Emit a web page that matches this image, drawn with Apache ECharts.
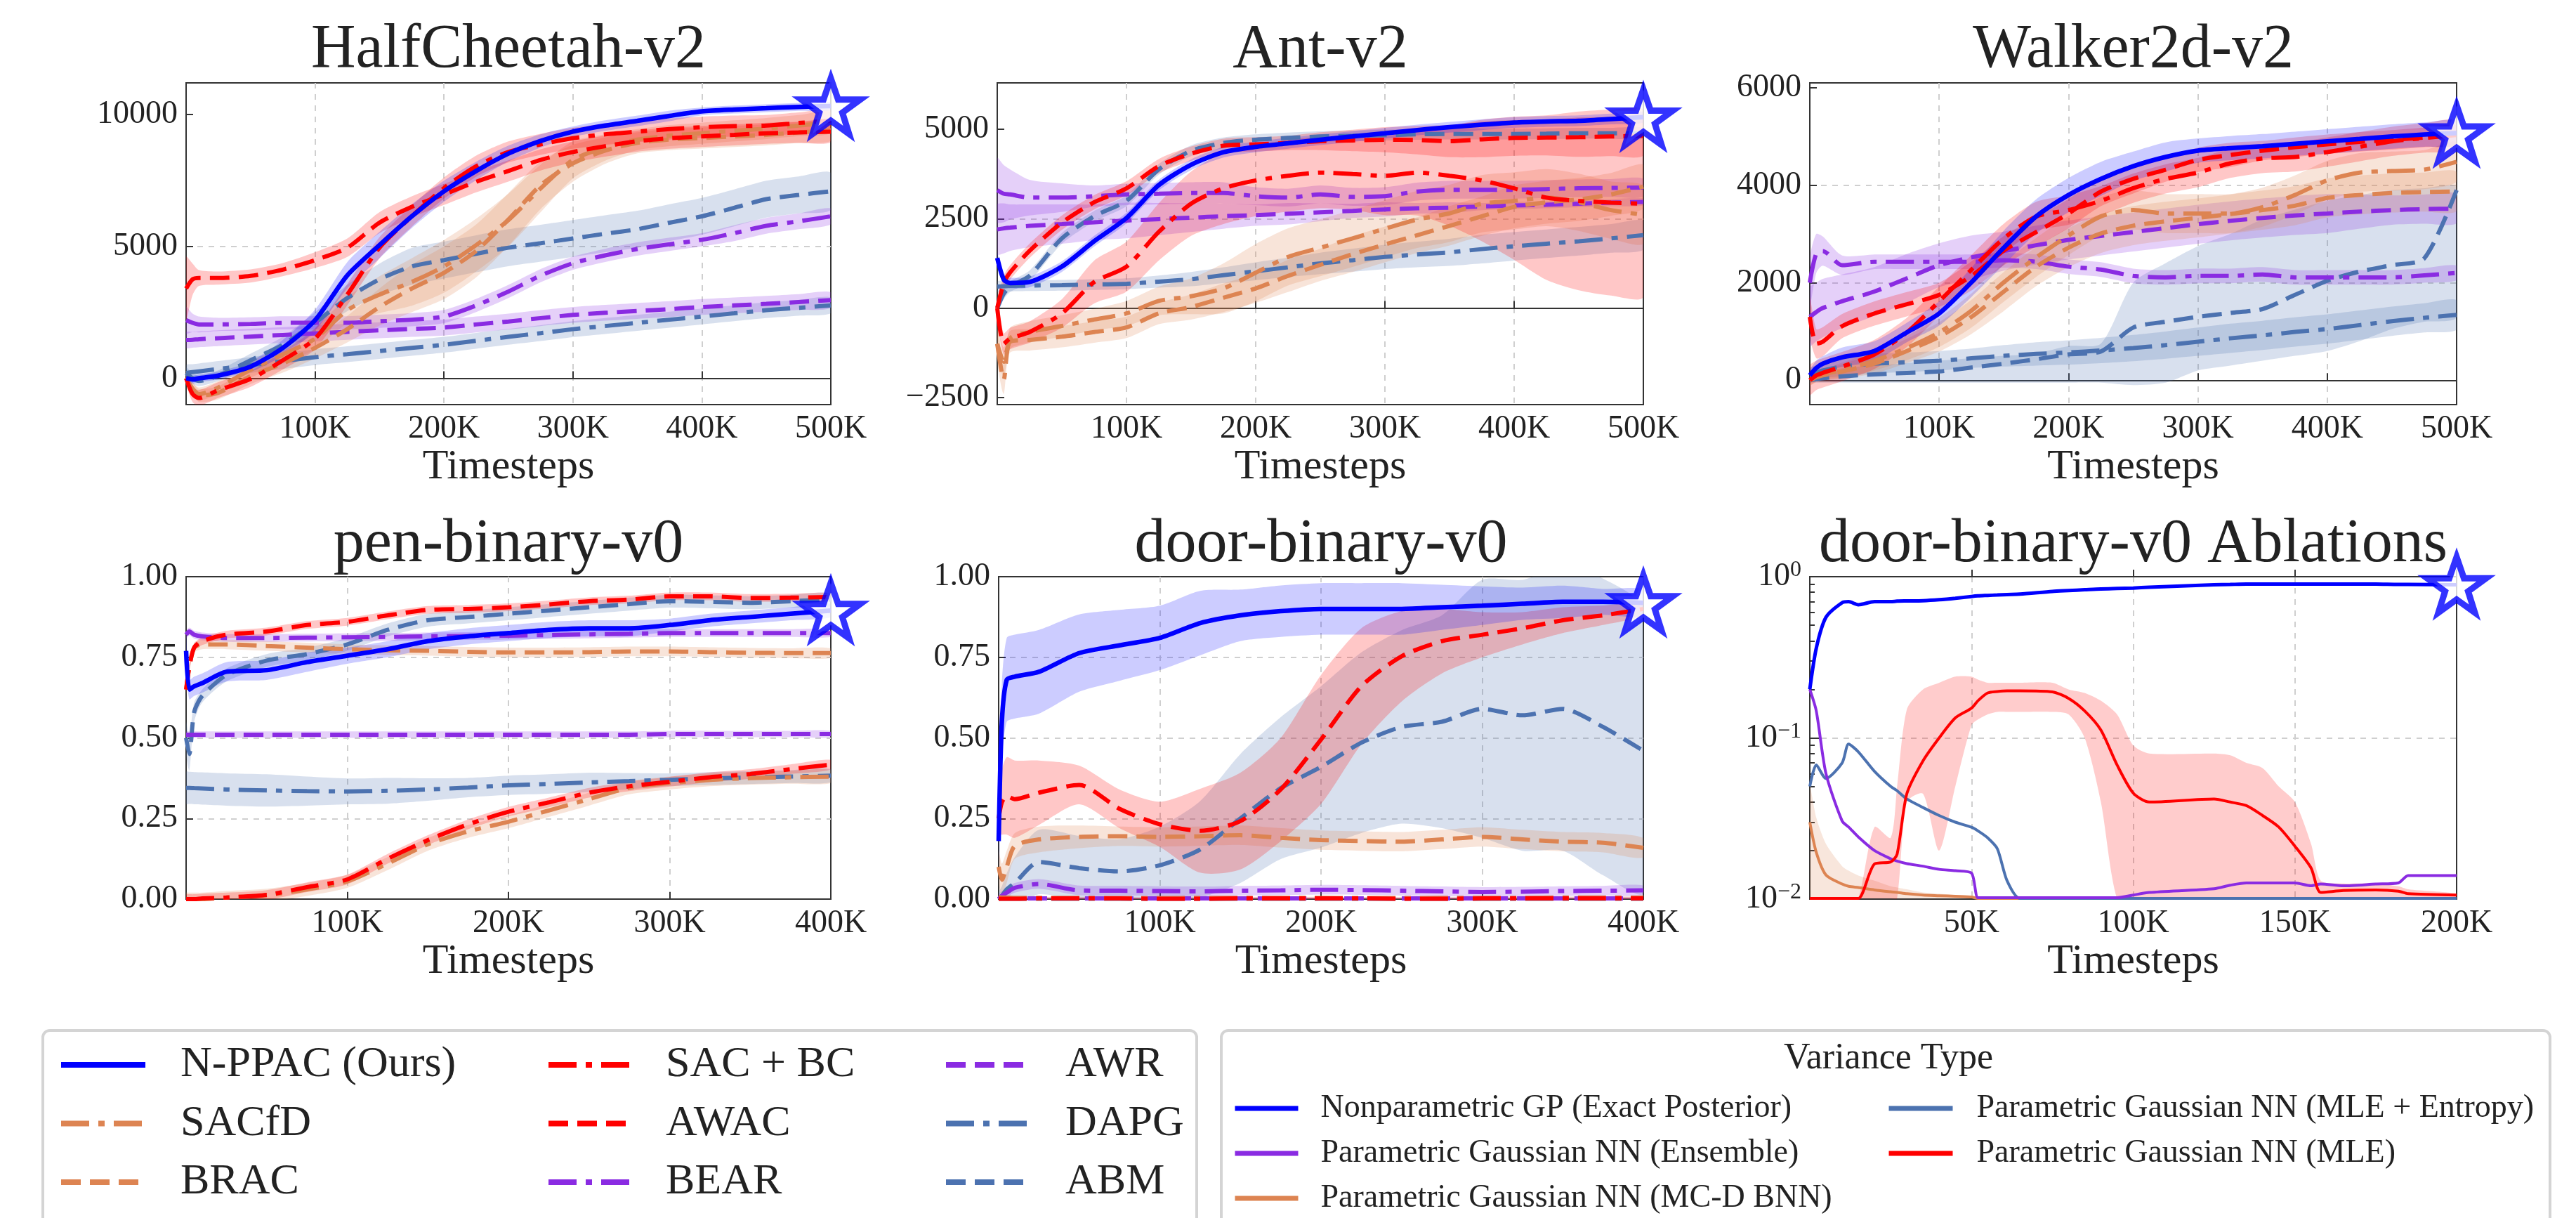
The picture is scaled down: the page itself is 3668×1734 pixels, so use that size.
<!DOCTYPE html>
<html>
<head>
<meta charset="utf-8">
<script src="https://cdn.jsdelivr.net/npm/echarts@6/dist/echarts.min.js"></script>
<style>
  html, body { margin: 0; background: #fff; }
  #main { width: 3668px; height: 1734px; }
</style>
</head>
<body>
<div id="main"></div>
<script>
// x grids (thousands of timesteps)
const X_MUJOCO = [0,5,10,25,50,75,100,125,150,175,200,225,250,275,300,325,350,375,400,425,450,475,500];
const X_ADROIT = [0,2,5,10,25,50,75,100,125,150,175,200,225,250,275,300,325,350,375,400];
const X_ABL = [0,2,5,10,12,15,20,25,27,30,35,40,45,50,52,55,58,61,65,75,80,85,90,95,100,105,125,130,135,140,145,150,155,158,165,175,182,185,200];

// HalfCheetah-v2
const hcNPPAC = [0,-50,0,100,440,1150,2200,3900,5050,6140,7090,7860,8520,9000,9350,9580,9760,9950,10120,10190,10240,10290,10320];
const hcNPPACsd = [150,150,150,150,200,300,400,500,500,450,400,350,300,250,200,200,200,200,150,150,150,150,150];
const hcSACBC = [0,-600,-750,-450,-30,680,1500,3170,4950,6140,7210,8040,8580,8870,9100,9250,9350,9450,9520,9560,9580,9680,9760];
const hcSACBCsd = [200,300,300,300,300,350,400,400,400,400,400,400,400,400,400,400,400,400,400,400,400,400,400];
const hcAWAC = [3400,3750,3800,3800,3880,4120,4480,4950,5900,6500,6970,7450,7860,8280,8580,8800,8990,9100,9170,9230,9290,9320,9350];
const hcAWACsd = [1200,600,300,250,250,250,300,350,400,400,400,400,400,400,400,400,400,400,400,400,400,400,400];
const hcSACfD = [0,-400,-600,-350,320,900,1500,2580,3170,3650,4240,5050,6000,7200,8280,8750,9050,9200,9290,9380,9470,9580,9700];
const hcSACfDsd = [200,250,250,250,300,350,400,500,700,900,1000,1000,1000,900,700,500,400,400,400,400,400,400,400];
const hcBRAC = [0,-400,-650,-550,80,560,1150,1860,2700,3400,4000,4830,6020,7320,8150,8630,8930,9050,9110,9170,9230,9320,9400];
const hcBRACsd = [200,250,250,250,300,350,400,500,700,900,1000,1000,1000,900,700,500,400,400,400,400,400,400,400];
const hcBEAR = [2200,2100,2040,2040,2060,2100,2100,2100,2160,2220,2340,2760,3290,3890,4360,4660,4900,5080,5250,5500,5780,5950,6140];
const hcBEARsd = [500,350,300,250,250,250,250,250,250,250,250,250,250,250,250,250,250,250,250,300,300,300,300];
const hcAWR = [1450,1460,1480,1520,1580,1640,1700,1760,1820,1870,1920,2040,2150,2280,2400,2480,2550,2620,2700,2760,2820,2890,2960];
const hcAWRsd = 300;
const hcDAPG = [200,230,260,350,500,650,800,910,1030,1150,1270,1420,1570,1710,1860,1980,2100,2220,2340,2460,2580,2670,2760];
const hcDAPGsd = 300;
const hcABM = [200,0,-100,100,680,1270,2100,3040,3750,4240,4480,4720,4950,5120,5300,5480,5650,5900,6140,6460,6790,6950,7090];
const hcABMsd = [200,200,200,200,250,300,400,500,600,700,700,700,700,700,700,700,700,700,700,700,700,700,700];

// Ant-v2
const antNPPAC = [1400,800,700,730,1160,1870,2520,3440,4010,4360,4510,4610,4710,4800,4890,4980,5060,5130,5190,5220,5240,5290,5340];
const antNPPACsd = 150;
const antAWAC = [0,700,1000,1600,2390,2960,3350,3970,4320,4540,4580,4620,4670,4690,4710,4700,4670,4720,4760,4770,4780,4800,4820];
const antAWACsd = [200,200,200,200,200,200,200,200,200,200,200,200,250,300,350,400,450,500,500,500,550,550,550];
const antSACBC = [0,-1000,-850,-670,-150,730,1160,2130,2920,3350,3570,3700,3790,3750,3700,3790,3700,3570,3350,3090,3000,2950,2920];
const antSACBCsd = [300,300,300,300,400,600,700,800,900,1000,1000,1000,1000,1000,1100,1200,1400,1700,2000,2300,2500,2600,2600];
const antSACfD = [-1000,-2000,-850,-670,-500,-320,-150,200,330,550,990,1430,1690,1950,2220,2480,2650,2920,3000,3090,2960,2740,2610];
const antSACfDsd = [500,400,300,300,300,300,350,400,500,700,800,800,800,800,800,800,800,800,800,800,800,800,800];
const antBRAC = [-1000,-1500,-940,-890,-800,-670,-540,-150,30,290,550,900,1210,1510,1780,2040,2300,2570,2830,2960,3040,3180,3400];
const antBRACsd = [400,400,300,300,300,300,300,300,350,400,400,450,450,500,500,500,550,550,600,600,600,600,600];
const antBEAR = [3300,3200,3180,3090,3090,3130,3180,3200,3220,3220,3130,3090,3180,3110,3130,3260,3310,3310,3310,3330,3350,3360,3370];
const antBEARsd = [900,800,700,500,400,300,300,300,300,300,250,250,250,250,250,250,250,250,250,250,250,250,250];
const antAWR = [2200,2230,2250,2300,2350,2400,2450,2490,2530,2570,2600,2640,2680,2720,2760,2790,2810,2840,2870,2890,2920,2950,2970];
const antAWRsd = [700,700,650,600,550,500,500,450,400,350,300,300,250,200,200,150,150,100,100,100,100,100,100];
const antDAPG = [600,610,620,630,640,660,680,740,810,920,1030,1140,1250,1340,1430,1500,1560,1650,1730,1800,1870,1950,2040];
const antDAPGsd = [150,150,150,150,150,150,150,170,200,220,250,270,300,320,340,360,380,400,400,400,400,400,400];
const antABM = [0,400,600,900,1950,2570,3000,3880,4400,4620,4710,4760,4800,4820,4840,4860,4870,4870,4870,4880,4890,4890,4890];
const antABMsd = 150;

// Walker2d-v2
const wkNPPAC = [100,250,340,470,600,980,1370,2010,2720,3360,3800,4130,4390,4580,4710,4760,4800,4850,4900,4950,5000,5040,5070];
const wkNPPACsd = [100,150,150,200,200,200,250,300,350,350,350,350,300,300,250,250,250,250,250,250,250,250,250];
const wkAWAC = [1300,750,790,1110,1370,1560,1750,2140,2660,3040,3420,3870,4130,4320,4520,4620,4710,4780,4840,4890,4930,4980,5030];
const wkAWACsd = [400,300,300,250,250,250,250,300,300,300,300,300,300,250,250,250,200,200,200,200,200,200,200];
const wkSACBC = [0,100,150,280,530,980,1620,2270,2910,3360,3490,3680,3940,4130,4260,4450,4550,4580,4680,4790,4900,4970,5030];
const wkSACBCsd = 300;
const wkSACfD = [0,80,120,210,400,660,980,1430,2010,2520,2970,3360,3490,3420,3420,3420,3550,3800,4100,4260,4290,4320,4480];
const wkSACfDsd = [100,100,100,150,200,250,300,350,400,400,400,400,400,400,400,400,400,400,400,400,400,400,400];
const wkBRAC = [0,60,100,180,340,600,890,1300,1820,2330,2720,3010,3170,3260,3330,3410,3490,3580,3740,3800,3840,3860,3870];
const wkBRACsd = [100,100,100,150,200,250,300,350,400,400,400,400,400,400,400,400,400,400,400,400,400,400,400];
const wkBEAR = [2000,2600,2650,2360,2430,2430,2430,2430,2460,2430,2330,2270,2140,2110,2140,2140,2170,2110,2110,2110,2110,2150,2200];
const wkBEARsd = [500,400,300,200,150,150,150,150,150,150,150,150,150,150,150,150,150,150,150,150,150,150,150];
const wkAWR = [1300,1400,1480,1620,1820,2090,2360,2520,2650,2770,2880,2960,3040,3120,3200,3270,3330,3380,3420,3460,3490,3510,3520];
const wkAWRsd = [600,600,600,550,500,500,450,450,400,400,400,400,400,400,400,400,400,400,400,350,300,300,300];
const wkDAPG = [100,150,200,280,340,370,400,450,500,540,570,610,660,720,790,860,920,990,1050,1130,1210,1280,1340];
const wkDAPGsd = [150,150,150,200,200,200,200,200,220,240,250,260,270,280,290,300,300,300,300,300,300,300,300];
const wkABM = [0,20,40,80,120,150,180,260,340,430,530,590,1080,1200,1300,1380,1460,1750,2040,2230,2360,2500,3900];
const wkABMlo = [-50,-50,-50,-50,-50,-50,-50,-50,-50,-50,-50,-50,-100,-50,200,300,400,500,600,800,1050,1200,1300];
const wkABMhi = [150,150,150,250,300,350,400,450,500,550,700,750,2000,2400,2750,3000,3300,3500,3680,3800,3900,3940,3950];

// pen-binary-v0
const penNPPAC = [0.77,0.65,0.66,0.67,0.705,0.71,0.735,0.755,0.775,0.80,0.815,0.825,0.835,0.84,0.84,0.85,0.865,0.875,0.885,0.895];
const penNPPACsd = [0.05,0.03,0.03,0.03,0.03,0.03,0.03,0.025,0.025,0.025,0.025,0.025,0.025,0.025,0.025,0.02,0.02,0.02,0.02,0.02];
const penAWAC = [0.65,0.72,0.78,0.80,0.82,0.83,0.85,0.86,0.88,0.897,0.90,0.905,0.914,0.924,0.929,0.939,0.939,0.934,0.935,0.937];
const penAWACsd = 0.012;
const penSACBC = [0,0,0,0.002,0.005,0.013,0.037,0.061,0.125,0.183,0.232,0.271,0.30,0.33,0.35,0.364,0.378,0.388,0.403,0.417];
const penSACBCsd = 0.015;
const penSACfD = [0,0,0,0,0.005,0.012,0.03,0.055,0.11,0.17,0.21,0.24,0.275,0.31,0.345,0.36,0.37,0.375,0.378,0.38];
const penSACfDsd = 0.02;
const penBRAC = [0.65,0.72,0.78,0.79,0.79,0.785,0.78,0.775,0.772,0.77,0.767,0.765,0.765,0.766,0.768,0.768,0.766,0.764,0.763,0.763];
const penBRACsd = 0.015;
const penBEAR = [0.82,0.83,0.82,0.815,0.81,0.81,0.811,0.812,0.813,0.815,0.816,0.817,0.819,0.821,0.823,0.825,0.825,0.825,0.825,0.825];
const penBEARsd = 0.012;
const penAWR = [0.51,0.51,0.51,0.51,0.51,0.51,0.51,0.51,0.51,0.51,0.51,0.51,0.51,0.51,0.51,0.512,0.512,0.512,0.512,0.512];
const penAWRsd = 0.01;
const penDAPG = [0.345,0.345,0.344,0.343,0.34,0.337,0.335,0.334,0.336,0.34,0.346,0.353,0.357,0.362,0.366,0.37,0.374,0.377,0.38,0.383];
const penDAPGsd = [0.05,0.05,0.05,0.05,0.05,0.05,0.045,0.04,0.04,0.035,0.03,0.03,0.03,0.03,0.025,0.02,0.02,0.02,0.02,0.02];
const penABM = [0.5,0.45,0.58,0.63,0.695,0.74,0.76,0.79,0.835,0.865,0.875,0.885,0.895,0.905,0.915,0.924,0.922,0.919,0.924,0.929];
const penABMsd = [0.05,0.05,0.03,0.02,0.02,0.02,0.02,0.02,0.02,0.02,0.02,0.02,0.02,0.02,0.02,0.02,0.02,0.02,0.02,0.02];

// door-binary-v0
const drNPPAC = [0.18,0.55,0.68,0.69,0.705,0.763,0.787,0.81,0.856,0.88,0.893,0.90,0.90,0.90,0.905,0.91,0.916,0.922,0.922,0.919];
const drNPPACsd = [0.1,0.12,0.13,0.13,0.13,0.12,0.11,0.1,0.1,0.08,0.08,0.08,0.08,0.08,0.07,0.06,0.05,0.05,0.04,0.04];
const drAWAC = [0.25,0.3,0.32,0.31,0.33,0.354,0.28,0.232,0.212,0.242,0.34,0.495,0.66,0.753,0.80,0.82,0.84,0.865,0.88,0.90];
const drAWACsd = [0.05,0.1,0.12,0.12,0.1,0.06,0.06,0.07,0.13,0.15,0.16,0.2,0.18,0.14,0.1,0.07,0.05,0.04,0.03,0.02];
const drABM = [0,0.01,0.03,0.05,0.115,0.096,0.086,0.105,0.154,0.25,0.344,0.41,0.485,0.534,0.55,0.59,0.57,0.59,0.534,0.46];
const drABMsd = [0.02,0.03,0.05,0.08,0.1,0.1,0.1,0.12,0.15,0.2,0.22,0.25,0.28,0.3,0.33,0.4,0.42,0.44,0.46,0.44];
const drBRAC = [0.1,0.06,0.1,0.165,0.185,0.193,0.195,0.193,0.195,0.198,0.19,0.183,0.18,0.178,0.185,0.193,0.185,0.178,0.175,0.159];
const drBRACsd = [0.05,0.05,0.05,0.04,0.04,0.035,0.03,0.03,0.03,0.03,0.03,0.03,0.03,0.03,0.03,0.03,0.03,0.03,0.03,0.03];
const drBEAR = [0,0.01,0.02,0.035,0.047,0.027,0.026,0.025,0.024,0.026,0.027,0.029,0.028,0.026,0.024,0.022,0.023,0.025,0.026,0.027];
const drBEARsd = 0.015;
const drSACfD = [0.006,0.005,0.005,0.004,0.004,0.004,0.003,0.003,0.004,0.004,0.004,0.004,0.003,0.003,0.004,0.004,0.004,0.005,0.005,0.005];
const drSACBC = [0.001,0.001,0.001,0.001,0.002,0.002,0.002,0.001,0.001,0.002,0.002,0.002,0.002,0.001,0.001,0.002,0.002,0.002,0.002,0.002];
const drAWR = [0.002,0.002,0.002,0.002,0.002,0.002,0.002,0.002,0.002,0.002,0.002,0.002,0.002,0.002,0.002,0.002,0.002,0.002,0.002,0.002];
const drDAPG = [0.001,0.001,0.001,0.001,0.001,0.001,0.001,0.001,0.001,0.001,0.001,0.001,0.001,0.001,0.001,0.001,0.001,0.001,0.001,0.001];
const drFlatSd = 0.003;

// door-binary-v0 Ablations (log scale)
const ablGP = [0.2,0.36,0.56,0.69,0.70,0.67,0.70,0.70,0.705,0.707,0.71,0.72,0.735,0.754,0.76,0.765,0.77,0.775,0.78,0.81,0.82,0.83,0.84,0.845,0.85,0.86,0.89,0.895,0.9,0.9,0.9,0.9,0.9,0.9,0.9,0.9,0.895,0.895,0.89];
const ablEns = [0.2,0.147,0.06,0.0305,0.028,0.0243,0.02,0.0178,0.0172,0.0166,0.016,0.0153,0.015,0.0145,0.0102,0.0102,0.0102,0.0102,0.0102,0.0102,0.0102,0.0102,0.0102,0.0102,0.0106,0.011,0.0116,0.0122,0.0126,0.0126,0.0126,0.0126,0.0121,0.0124,0.0121,0.0124,0.0126,0.014,0.014];
const ablMCD = [0.03,0.0195,0.0141,0.0124,0.012,0.0118,0.0114,0.0111,0.011,0.0108,0.0106,0.0105,0.0104,0.0103,0.0101,0.0101,0.0101,0.0101,0.0101,0.0101,0.0101,0.0101,0.0101,0.0101,0.0101,0.0101,0.0101,0.0101,0.0101,0.0101,0.0101,0.0101,0.0101,0.0101,0.0101,0.0101,0.0101,0.0101,0.0101];
const ablMCDhi = [0.05,0.032,0.022,0.016,0.015,0.014,0.013,0.012,0.0118,0.0115,0.011,0.0108,0.0106,0.0105,0.0101,0.0101,0.0101,0.0101,0.0101,0.0101,0.0101,0.0101,0.0101,0.0101,0.0101,0.0101,0.0101,0.0101,0.0101,0.0101,0.0101,0.0101,0.0101,0.0101,0.0101,0.0101,0.0101,0.0101,0.0101];
const ablEnt = [0.05,0.068,0.056,0.07,0.0915,0.082,0.062,0.05,0.047,0.0418,0.037,0.033,0.03,0.0279,0.0265,0.024,0.0205,0.013,0.0101,0.0101,0.0101,0.0101,0.0101,0.0101,0.0101,0.0101,0.0101,0.0101,0.0101,0.0101,0.0101,0.0101,0.0101,0.0101,0.0101,0.0101,0.0101,0.0101,0.0101];
const ablMLE = [0.0101,0.0101,0.0101,0.0101,0.0101,0.0101,0.0165,0.017,0.019,0.045,0.072,0.1,0.133,0.153,0.17,0.19,0.194,0.196,0.196,0.193,0.176,0.147,0.112,0.068,0.0455,0.04,0.0418,0.04,0.038,0.033,0.028,0.0213,0.0156,0.011,0.0113,0.0114,0.0112,0.0108,0.0106];
const ablMLEhi = [0.0101,0.0101,0.0101,0.0101,0.0101,0.0101,0.028,0.024,0.05,0.15,0.2,0.22,0.24,0.24,0.23,0.22,0.22,0.22,0.22,0.22,0.2,0.19,0.17,0.14,0.09,0.08,0.08,0.078,0.07,0.065,0.05,0.04,0.022,0.013,0.0125,0.0125,0.012,0.0115,0.0108];
const ablMLElo = [0.0101,0.0101,0.0101,0.0101,0.0101,0.0101,0.0101,0.0101,0.0101,0.04,0.045,0.02,0.05,0.12,0.13,0.14,0.145,0.145,0.145,0.145,0.14,0.1,0.04,0.0101,0.0101,0.0101,0.0101,0.0101,0.0101,0.0101,0.0101,0.0101,0.0101,0.0101,0.0101,0.0101,0.0101,0.0101,0.0101];
const ablFloor = 0.0101;

// tick labels
const Y_TICKS_HC = [0, 5000, 10000];
const Y_TICKS_ANT = [-2500, 0, 2500, 5000];
const Y_TICKS_WK = [0, 2000, 4000, 6000];

const FONT = 'Liberation Serif';
const TXT = '#222';
const DASH = [28, 13];
const DASHDOT = [40, 13, 9, 13];

const STYLE = {
  'N-PPAC (Ours)': { color: '#0000ff', type: 'solid', width: 6.5 },
  'SACfD': { color: '#dd8452', type: DASHDOT, width: 6 },
  'BRAC': { color: '#dd8452', type: DASH, width: 6 },
  'SAC + BC': { color: '#ff0000', type: DASHDOT, width: 6 },
  'AWAC': { color: '#ff0000', type: DASH, width: 6 },
  'BEAR': { color: '#8a2be2', type: DASHDOT, width: 6 },
  'AWR': { color: '#8a2be2', type: DASH, width: 6 },
  'DAPG': { color: '#4c72b0', type: DASHDOT, width: 6 },
  'ABM': { color: '#4c72b0', type: DASH, width: 6 },
  'Nonparametric GP (Exact Posterior)': { color: '#0000ff', type: 'solid', width: 5 },
  'Parametric Gaussian NN (Ensemble)': { color: '#8a2be2', type: 'solid', width: 4 },
  'Parametric Gaussian NN (MC-D BNN)': { color: '#dd8452', type: 'solid', width: 4 },
  'Parametric Gaussian NN (MLE + Entropy)': { color: '#4c72b0', type: 'solid', width: 4 },
  'Parametric Gaussian NN (MLE)': { color: '#ff0000', type: 'solid', width: 4 }
};

const STAR = 'path://M50,2 L61.8,36.2 L97.6,36.2 L68.6,57.4 L79.4,91.6 L50,70.4 L20.6,91.6 L31.4,57.4 L2.4,36.2 L38.2,36.2 Z';

const GRIDS = [
  { left: 265, top: 118, width: 918, height: 458 },
  { left: 1420, top: 118, width: 920, height: 458 },
  { left: 2577, top: 118, width: 921, height: 458 },
  { left: 265, top: 821, width: 918, height: 459 },
  { left: 1422, top: 821, width: 918, height: 459 },
  { left: 2577, top: 821, width: 921, height: 459 }
];
const TITLES = ['HalfCheetah-v2', 'Ant-v2', 'Walker2d-v2', 'pen-binary-v0', 'door-binary-v0', 'door-binary-v0 Ablations'];

function rgba(hex, a) {
  const n = parseInt(hex.slice(1), 16);
  return 'rgba(' + (n >> 16) + ',' + ((n >> 8) & 255) + ',' + (n & 255) + ',' + a + ')';
}
function at(v, i) { return Array.isArray(v) ? v[i] : v; }

const series = [];

function addBand(g, X, lo, hi, color, alpha) {
  series.push({
    type: 'custom', xAxisIndex: g, yAxisIndex: g, z: 1, silent: true,
    data: X.map((x, i) => [x, lo[i], hi[i]]),
    renderItem: function (params, api) {
      if (params.dataIndex !== 0) return null;
      const pts = [];
      for (let i = 0; i < X.length; i++) pts.push(api.coord([X[i], lo[i]]));
      for (let i = X.length - 1; i >= 0; i--) pts.push(api.coord([X[i], hi[i]]));
      const cs = params.coordSys;
      return {
        type: 'polygon', shape: { points: pts, smooth: 0.25 },
        style: { fill: rgba(color, alpha) },
        clipPath: { type: 'rect', shape: { x: cs.x, y: cs.y, width: cs.width, height: cs.height } }
      };
    }
  });
}
function addLine(g, X, Y, name) {
  const st = STYLE[name];
  series.push({
    type: 'line', name: name, xAxisIndex: g, yAxisIndex: g, z: 2,
    data: X.map((x, i) => [x, Y[i]]),
    symbol: 'none', smooth: 0.25, silent: true,
    lineStyle: { color: st.color, width: st.width, type: st.type },
    itemStyle: { color: st.color }
  });
}
function addStar(g, X, Y) {
  series.push({
    type: 'scatter', xAxisIndex: g, yAxisIndex: g, z: 6, clip: false, silent: true,
    data: [[X[X.length - 1], Y[Y.length - 1]]],
    symbol: STAR, symbolSize: 84, symbolKeepAspect: true,
    itemStyle: { color: '#ffffff', borderColor: '#0000ff', borderWidth: 9 }
  });
}
// entry: [name, mean, sd] or [name, mean, lo, hi]
function addPanel(g, X, list) {
  list.forEach(([name, mean, a, b]) => {
    const c = STYLE[name].color;
    const lo = b ? a : mean.map((v, i) => v - at(a, i));
    const hi = b ? b : mean.map((v, i) => v + at(a, i));
    addBand(g, X, lo, hi, c, name === 'N-PPAC (Ours)' ? 0.2 : 0.22);
  });
  list.forEach(([name, mean]) => addLine(g, X, mean, name));
  addStar(g, X, list[list.length - 1][1]);
}

addPanel(0, X_MUJOCO, [
  ['ABM', hcABM, hcABMsd], ['DAPG', hcDAPG, hcDAPGsd], ['AWR', hcAWR, hcAWRsd], ['BEAR', hcBEAR, hcBEARsd],
  ['BRAC', hcBRAC, hcBRACsd], ['SACfD', hcSACfD, hcSACfDsd], ['AWAC', hcAWAC, hcAWACsd], ['SAC + BC', hcSACBC, hcSACBCsd],
  ['N-PPAC (Ours)', hcNPPAC, hcNPPACsd]
]);
addPanel(1, X_MUJOCO, [
  ['ABM', antABM, antABMsd], ['DAPG', antDAPG, antDAPGsd], ['AWR', antAWR, antAWRsd], ['BEAR', antBEAR, antBEARsd],
  ['BRAC', antBRAC, antBRACsd], ['SACfD', antSACfD, antSACfDsd], ['AWAC', antAWAC, antAWACsd], ['SAC + BC', antSACBC, antSACBCsd],
  ['N-PPAC (Ours)', antNPPAC, antNPPACsd]
]);
addPanel(2, X_MUJOCO, [
  ['ABM', wkABM, wkABMlo, wkABMhi], ['DAPG', wkDAPG, wkDAPGsd], ['AWR', wkAWR, wkAWRsd], ['BEAR', wkBEAR, wkBEARsd],
  ['BRAC', wkBRAC, wkBRACsd], ['SACfD', wkSACfD, wkSACfDsd], ['AWAC', wkAWAC, wkAWACsd], ['SAC + BC', wkSACBC, wkSACBCsd],
  ['N-PPAC (Ours)', wkNPPAC, wkNPPACsd]
]);
addPanel(3, X_ADROIT, [
  ['ABM', penABM, penABMsd], ['DAPG', penDAPG, penDAPGsd], ['AWR', penAWR, penAWRsd], ['BEAR', penBEAR, penBEARsd],
  ['BRAC', penBRAC, penBRACsd], ['SACfD', penSACfD, penSACfDsd], ['AWAC', penAWAC, penAWACsd], ['SAC + BC', penSACBC, penSACBCsd],
  ['N-PPAC (Ours)', penNPPAC, penNPPACsd]
]);
addPanel(4, X_ADROIT, [
  ['ABM', drABM, drABMsd], ['DAPG', drDAPG, drFlatSd], ['AWR', drAWR, drFlatSd], ['BEAR', drBEAR, drBEARsd],
  ['BRAC', drBRAC, drBRACsd], ['SACfD', drSACfD, drFlatSd], ['AWAC', drAWAC, drAWACsd], ['SAC + BC', drSACBC, drFlatSd],
  ['N-PPAC (Ours)', drNPPAC, drNPPACsd]
]);

// ablations
addBand(5, X_ABL, X_ABL.map(() => ablFloor), ablMCDhi, '#dd8452', 0.2);
addBand(5, X_ABL, ablMLElo, ablMLEhi, '#ff0000', 0.2);
addLine(5, X_ABL, ablMCD, 'Parametric Gaussian NN (MC-D BNN)');
addLine(5, X_ABL, ablEnt, 'Parametric Gaussian NN (MLE + Entropy)');
addLine(5, X_ABL, ablEns, 'Parametric Gaussian NN (Ensemble)');
addLine(5, X_ABL, ablMLE, 'Parametric Gaussian NN (MLE)');
addLine(5, X_ABL, ablGP, 'Nonparametric GP (Exact Posterior)');
addStar(5, X_ABL, ablGP);

const splitStyle = { show: true, showMinLine: false, showMaxLine: false, lineStyle: { color: '#cfcfcf', width: 2, type: [8, 8] } };
const tickStyle = { show: true, inside: true, length: 10, lineStyle: { color: '#333', width: 2 } };
const labelBase = { fontFamily: FONT, fontSize: 46, color: TXT, margin: 12 };
const axisLineStyle = { show: true, lineStyle: { color: '#333', width: 2 } };

const xAxis = GRIDS.map((_, g) => ({
  type: 'value', gridIndex: g, min: 0, max: [500, 500, 500, 400, 400, 200][g], interval: g === 5 ? 50 : 100,
  name: 'Timesteps', nameLocation: 'middle', nameGap: 56,
  nameTextStyle: { fontFamily: FONT, fontSize: 60, color: TXT },
  axisLine: axisLineStyle, axisTick: tickStyle, splitLine: splitStyle,
  axisLabel: Object.assign({}, labelBase, { showMinLabel: false, formatter: v => v + 'K' })
}));

function fmtSigned(v) { return v < 0 ? '\u2212' + Math.abs(v) : String(v); }
function customY(g, min, max, ticks) {
  return {
    type: 'value', gridIndex: g, min: min, max: max,
    axisLine: axisLineStyle,
    axisTick: Object.assign({}, tickStyle, { customValues: ticks }),
    splitLine: splitStyle,
    axisLabel: Object.assign({}, labelBase, { customValues: ticks, formatter: fmtSigned })
  };
}
const MINOR = [];
[-2, -1].forEach(e => { for (let k = 2; k <= 9; k++) MINOR.push(e + Math.log10(k)); });

const yAxis = [
  customY(0, -1000, 11200, Y_TICKS_HC),
  customY(1, -2700, 6300, Y_TICKS_ANT),
  customY(2, -500, 6100, Y_TICKS_WK),
  { type: 'value', gridIndex: 3, min: 0, max: 1, interval: 0.25, axisLine: axisLineStyle, axisTick: tickStyle, splitLine: splitStyle,
    axisLabel: Object.assign({}, labelBase, { formatter: v => v.toFixed(2) }) },
  { type: 'value', gridIndex: 4, min: 0, max: 1, interval: 0.25, axisLine: axisLineStyle, axisTick: tickStyle, splitLine: splitStyle,
    axisLabel: Object.assign({}, labelBase, { formatter: v => v.toFixed(2) }) },
  { type: 'log', logBase: 10, gridIndex: 5, min: 0.01, max: 1, axisLine: axisLineStyle,
    axisTick: Object.assign({}, tickStyle, { length: 13 }), splitLine: splitStyle,
    axisLabel: Object.assign({}, labelBase, {
      formatter: function (v) {
        const e = Math.round(Math.log10(v));
        return '{b|10}{s|' + (e < 0 ? '\u2212' : '') + Math.abs(e) + '}';
      },
      rich: {
        b: { fontFamily: FONT, fontSize: 46, color: TXT },
        s: { fontFamily: FONT, fontSize: 32, color: TXT, verticalAlign: 'top', padding: [0, 0, 18, 0] }
      }
    }) },
  { type: 'value', gridIndex: 5, position: 'left', min: -2, max: 0,
    axisLine: { show: false }, axisLabel: { show: false }, splitLine: { show: false },
    axisTick: { show: true, inside: true, length: 7, customValues: MINOR, lineStyle: { color: '#333', width: 2 } } }
];

const graphic = [
  { type: 'rect', z: -1, shape: { x: 61, y: 1467, width: 1643, height: 330, r: 10 }, style: { fill: '#fff', stroke: '#d4d4d4', lineWidth: 4 } },
  { type: 'rect', z: -1, shape: { x: 1739, y: 1467, width: 1892, height: 330, r: 10 }, style: { fill: '#fff', stroke: '#d4d4d4', lineWidth: 4 } },
  { type: 'text', x: 2689, y: 1507, style: { text: 'Variance Type', fontFamily: FONT, fontSize: 52, fill: TXT, textAlign: 'center', textVerticalAlign: 'middle' } }
];
GRIDS.forEach((gr, g) => {
  graphic.push({
    type: 'text', x: gr.left + gr.width / 2, y: g < 3 ? 72 : 776,
    style: { text: TITLES[g], fontFamily: FONT, fontSize: 88, fill: TXT, textAlign: 'center', textVerticalAlign: 'middle' }
  });
});

function legendCol(left, top, names, opt) {
  return {
    orient: 'vertical', left: left, top: top, padding: 0, selectedMode: false,
    itemWidth: opt.iw, itemHeight: 20, itemGap: opt.gap, data: names,
    itemStyle: { opacity: 0 },
    lineStyle: { width: opt.lw },
    textStyle: { fontFamily: FONT, fontSize: opt.fs, lineHeight: opt.lh, color: TXT, padding: [0, 0, 0, opt.pad] }
  };
}
const L1 = { iw: 120, gap: 13.5, lw: 8, fs: 62, lh: 70, pad: 45 };
const L2 = { iw: 90, gap: 12, lw: 7, fs: 46, lh: 52, pad: 27 };

const option = {
  backgroundColor: '#ffffff',
  animation: false,
  textStyle: { fontFamily: FONT },
  grid: GRIDS.map(gr => Object.assign({ show: true, borderColor: '#333', borderWidth: 2, backgroundColor: 'transparent' }, gr)),
  xAxis: xAxis,
  yAxis: yAxis,
  legend: [
    legendCol(83, 1481, ['N-PPAC (Ours)', 'SACfD', 'BRAC'], L1),
    legendCol(777, 1481, ['SAC + BC', 'AWAC', 'BEAR'], Object.assign({}, L1, { pad: 42 })),
    legendCol(1343, 1481, ['AWR', 'DAPG', 'ABM'], L1),
    legendCol(1755, 1552, ['Nonparametric GP (Exact Posterior)', 'Parametric Gaussian NN (Ensemble)', 'Parametric Gaussian NN (MC-D BNN)'], L2),
    legendCol(2686, 1552, ['Parametric Gaussian NN (MLE + Entropy)', 'Parametric Gaussian NN (MLE)'], Object.assign({}, L2, { iw: 91, pad: 29 }))
  ],
  graphic: graphic,
  series: series
};

const chart = echarts.init(document.getElementById('main'));
chart.setOption(option);
</script>
</body>
</html>
